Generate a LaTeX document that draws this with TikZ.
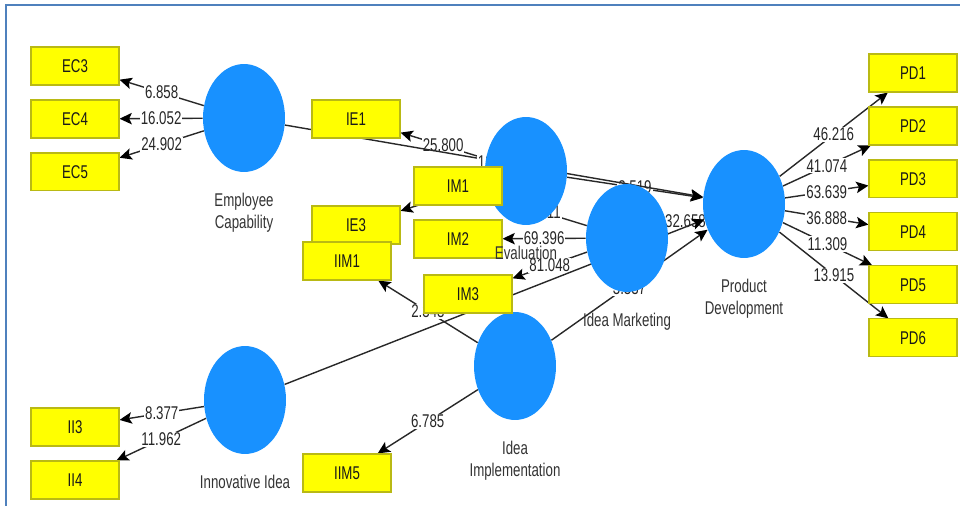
\documentclass[tikz,border=0pt]{standalone}
\usepackage{fontspec}
\setmainfont{Liberation Sans}[FakeStretch=0.72]
\usetikzlibrary{shapes.geometric,arrows.meta,positioning}

\definecolor{lvblue}{RGB}{24,145,255}
\definecolor{mvyellow}{RGB}{255,255,0}
\definecolor{mvborder}{RGB}{185,185,20}
\definecolor{framecol}{RGB}{79,129,189}
\definecolor{pathgray}{RGB}{40,40,40}

\pgfdeclarelayer{bg}
\pgfsetlayers{bg,main}

\tikzstyle{indicator} = [rectangle, minimum width=1.76cm, minimum height=0.76cm, inner sep=0pt, text centered, draw=mvborder, fill=mvyellow, line width=0.6pt, text=black!90]
\tikzstyle{construct} = [ellipse, minimum width=1.64cm, minimum height=2.16cm, inner sep=0pt, fill=lvblue]
\tikzstyle{caption} = [align=center, inner sep=0pt, text=black!80]
\tikzstyle{arrow} = [line width=0.8pt, draw=pathgray, -{Stealth[length=7pt,width=6.5pt,inset=1.5pt,color=black]}]
\tikzstyle{weight} = [fill=white, inner sep=0.6pt, text=black!85]

\begin{document}
\begin{tikzpicture}[x=0.02cm, y=-0.02cm, node distance=1.06cm, font=\fontsize{10.5}{13}\selectfont]

  \useasboundingbox (0,0) rectangle (960,506);

  \node (EC) [construct] at (244,118) {};
  \node (EV) [construct] at (526,171) {};
  \node (IMK) [construct] at (627,238) {};
  \node (PD) [construct] at (744,204) {};
  \node (II) [construct] at (245,400) {};
  \node (IDI) [construct] at (515,366) {};

  % --- %

  \node (EC3) [indicator] at (75,66) {EC3};
  \node (EC4) [indicator, below of=EC3] {EC4};
  \node (EC5) [indicator, below of=EC4] {EC5};
  \node (IE1) [indicator] at (356,119) {IE1};
  \node (IE3) [indicator] at (356,225) {IE3};
  \node (IIM1) [indicator] at (347,261) {IIM1};
  \node (IM1) [indicator] at (458,186) {IM1};
  \node (IM2) [indicator, below of=IM1] {IM2};
  \node (IM3) [indicator] at (468,294) {IM3};
  \node (IIM5) [indicator] at (347,473) {IIM5};
  \node (II3) [indicator] at (75,427) {II3};
  \node (II4) [indicator, below of=II3] {II4};
  \node (PD1) [indicator] at (913,73) {PD1};
  \node (PD2) [indicator, below of=PD1] {PD2};
  \node (PD3) [indicator, below of=PD2] {PD3};
  \node (PD4) [indicator, below of=PD3] {PD4};
  \node (PD5) [indicator, below of=PD4] {PD5};
  \node (PD6) [indicator, below of=PD5] {PD6};

  % --- %

  \node (ECcap) [caption, below=0.4cm of EC] {Employee\\Capability};
  \node (EVcap) [caption, below=0.4cm of EV] {Evaluation};
  \node (IMKcap) [caption, below=0.4cm of IMK] {Idea Marketing};
  \node (PDcap) [caption, below=0.4cm of PD] {Product\\Development};
  \node (IIcap) [caption, below=0.4cm of II] {Innovative Idea};
  \node (IDIcap) [caption, below=0.4cm of IDI] {Idea\\Implementation};

  % --- %

  \begin{pgfonlayer}{bg}
  \draw [framecol, line width=1.2pt] (962,5) -- (6,5) -- (6,508);

  \draw [arrow] (EC) -- node[weight] {6.858} (EC3);
  \draw [arrow] (EC) -- node[weight] {16.052} (EC4);
  \draw [arrow] (EC) -- node[weight] {24.902} (EC5);
  \draw [arrow] (EV) -- node[weight] {25.800} (IE1);
  \draw [arrow] (EV) -- (IE3);
  \draw [arrow] (IMK) -- node[weight] {4.711} (IM1);
  \draw [arrow] (IMK) -- node[weight] {69.396} (IM2);
  \draw [arrow] (IMK) -- node[weight] {81.048} (IM3);
  \draw [arrow] (IDI) -- node[weight] {2.343} (IIM1);
  \draw [arrow] (IDI) -- node[weight] {6.785} (IIM5);
  \draw [arrow] (II) -- node[weight] {8.377} (II3);
  \draw [arrow] (II) -- node[weight] {11.962} (II4);
  \draw [arrow] (PD) -- node[weight] {46.216} (PD1);
  \draw [arrow] (PD) -- node[weight] {41.074} (PD2);
  \draw [arrow] (PD) -- node[weight] {63.639} (PD3);
  \draw [arrow] (PD) -- node[weight] {36.888} (PD4);
  \draw [arrow] (PD) -- node[weight] {11.309} (PD5);
  \draw [arrow] (PD) -- node[weight] {13.915} (PD6);

  % --- %

  \draw [arrow] (EV) -- node[weight] {3.519} (PD);
  \draw [arrow] (IMK) -- node[weight] {32.658} (PD);
  \draw [arrow] (EC) -- node[weight, pos=0.51] {12.183} (PD);
  \draw [arrow] (IDI) -- node[weight, yshift=-0.06cm] {3.337} (PD);
  \draw [arrow] (II) -- (PD);
  \end{pgfonlayer}

\end{tikzpicture}
\end{document}
